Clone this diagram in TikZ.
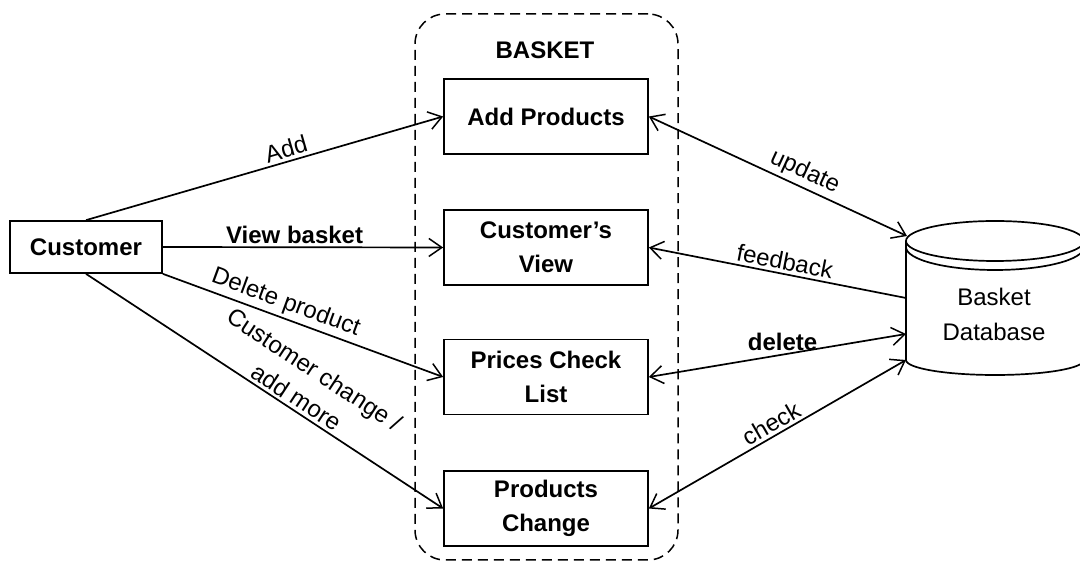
\documentclass[tikz,border=0pt]{standalone}
\usepackage{fontspec}
\setmainfont{Liberation Sans}
\usetikzlibrary{arrows.meta}
\newcommand{\fsz}{\fontsize{24}{34}\selectfont}
\begin{document}
\begin{tikzpicture}[x=1pt,y=1pt,
  box/.style={draw, line width=1.7pt, minimum width=204pt, minimum height=75pt, align=center, font=\fsz\bfseries, inner sep=0pt},
  lbl/.style={font=\fsz, inner sep=3pt},
  blbl/.style={font=\fsz\bfseries, inner sep=3pt},
  arr/.style={line width=1.7pt, -{Straight Barb[length=13pt,width=18pt,line width=1.5pt]}},
  darr/.style={line width=1.7pt, {Straight Barb[length=13pt,width=18pt,line width=1.5pt]}-{Straight Barb[length=13pt,width=18pt,line width=1.5pt]}},
  dbline/.style={line width=1.7pt}
]
\useasboundingbox (0,0) rectangle (1080,562);
\fill[white] (0,0) rectangle (1080,562);

% basket container
\node[draw, dashed, dash pattern=on 10pt off 6pt, line width=1.5pt, rounded corners=30pt,
      minimum width=263pt, minimum height=546pt, inner sep=0pt] (basket) at (546.5,275) {};
\node[blbl] (baskettitle) at (545,512) {BASKET};

% boxes
\node[box] (add) at (546,445.5) {Add Products};
\node[box] (view) at (546,314.5) {Customer's\\View};
\node[box] (prices) at (546,185) {Prices Check\\List};
\node[box] (change) at (546,53.5) {Products\\Change};

% customer
\node[draw, line width=1.7pt, minimum width=152pt, minimum height=52pt, inner sep=0pt, font=\fsz\bfseries] (cust) at (86,315) {Customer};

% database
\begin{scope}
\clip (0,0) rectangle (1080,562);
\draw[dbline] (906,321) -- (906,202) arc (180:360:89 and 15) -- (1084,321);
\draw[dbline] (995,321) ellipse (89 and 20);
\draw[dbline] (906,315) arc (180:360:89 and 23);
\end{scope}
\node[font=\fontsize{24}{35}\selectfont, align=center, inner sep=0pt] (dbtext) at (994,248) {Basket\\Database};
\coordinate (dbA) at (907,326);
\coordinate (dbB) at (906,264);
\coordinate (dbC) at (906,228);
\coordinate (dbD) at (906,202);

% left connectors
\draw[arr] (cust.north) -- node[lbl, sloped, above, pos=0.57] {Add} (add.west);
\draw[arr] (cust.east) -- node[blbl, above, pos=0.47] {View basket} (view.west);
\draw[arr] (cust.south east) -- node[lbl, sloped, above, pos=0.42] {Delete product} (prices.west);
\draw[arr] (cust.south) -- node[lbl, sloped, above, pos=0.57, align=center, font=\fontsize{24}{33}\selectfont] {Customer change /\\add more} (change.west);

% right connectors
\draw[darr] (add.east) -- node[lbl, sloped, above, pos=0.58] {update} (dbA);
\draw[arr] (dbB) -- node[lbl, sloped, above, pos=0.48] {feedback} (view.east);
\draw[darr] (dbC) -- node[blbl, above, pos=0.48] {delete} (prices.east);
\draw[darr] (change.east) -- node[lbl, sloped, above, pos=0.5] {check} (dbD);
\end{tikzpicture}
\end{document}
